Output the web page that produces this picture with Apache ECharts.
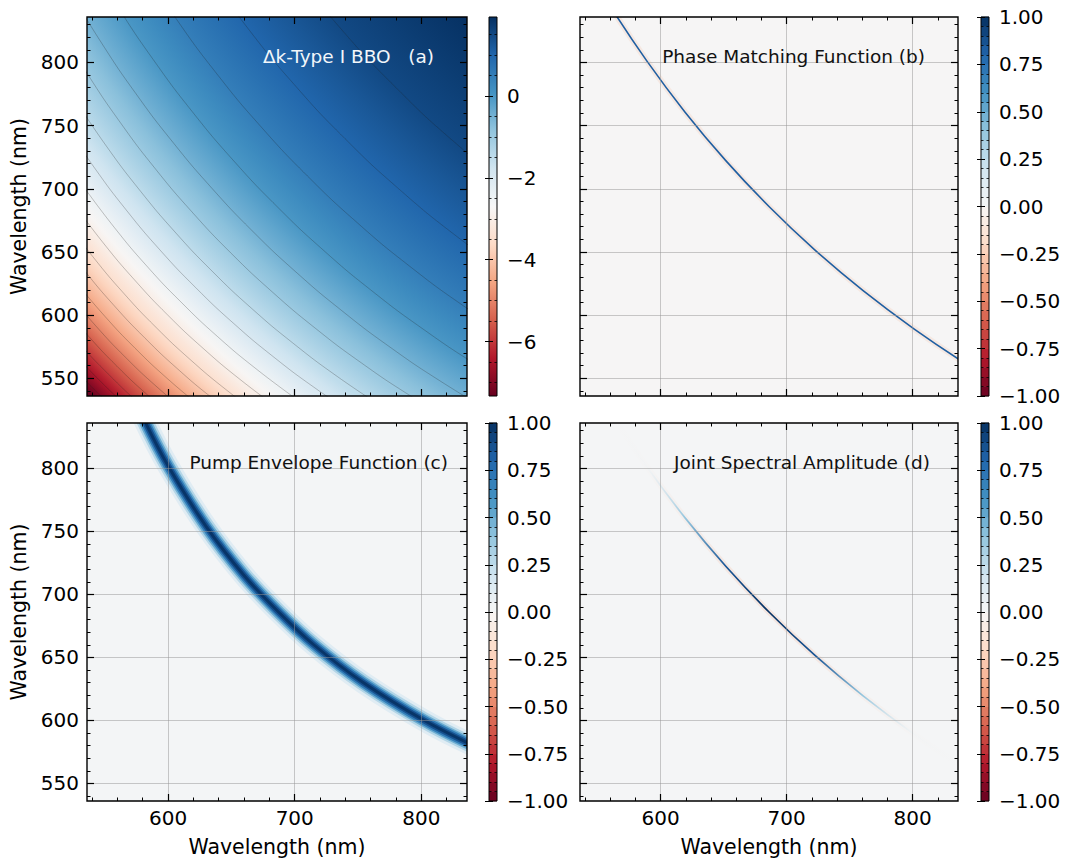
<!DOCTYPE html>
<html>
<head>
<meta charset="utf-8">
<script src="https://cdn.jsdelivr.net/npm/echarts@6.0.0/dist/echarts.min.js"></script>
<style>
html,body{margin:0;padding:0;background:#ffffff;}
#chart{width:1065px;height:860px;}
</style>
</head>
<body>
<div id="chart"></div>
<script>
// ================= data =================
const WL_MIN = 536, WL_MAX = 836;
const X_MAJOR = [600, 700, 800];
const X_MINOR = [540, 560, 580, 620, 640, 660, 680, 720, 740, 760, 780, 820];
const Y_MAJOR = [550, 600, 650, 700, 750, 800];
const Y_MINOR = [540, 560, 570, 580, 590, 610, 620, 630, 640, 660, 670, 680, 690, 710, 720, 730, 740, 760, 770, 780, 790, 810, 820, 830];

// panel (a): delta-k colour range, corner values and contour lines (signal nm, idler nm)
const DK_MIN = -7.33, DK_MAX = 1.93;
const DK_LOW_CORNER = -7.5, DK_HIGH_CORNER = 1.91;
const DK_CB_MAJOR = [-6, -4, -2, 0];
const DK_CB_MINOR = [-7, -6.5, -5.5, -5, -4.5, -3.5, -3, -2.5, -1.5, -1, -0.5, 0.5, 1, 1.5];
const DK_LEVELS = [1.5, 1.0, 0.5, 0, -0.5, -1.0, -1.5, -2.0, -2.5, -3.0, -3.5, -4.0, -4.5, -5.0, -5.5, -6.0, -6.5, -7.0];
const DK_CONTOURS = [
  [[694.9,877.9],[735.9,827.3],[780.0,780.0],[827.3,735.9],[877.9,694.9]],
  [[628.0,875.4],[662.8,827.3],[700.0,782.1],[739.7,739.7],[782.1,700.0],[827.3,662.8],[875.4,628.0]],
  [[576.2,880.6],[606.6,834.3],[638.9,790.5],[673.4,749.1],[710.1,710.1],[749.1,673.4],[790.5,638.9],[834.3,606.6],[880.6,576.2]],
  [[533.4,888.9],[560.3,844.1],[589.0,801.3],[619.4,760.7],[651.7,722.3],[686.0,686.0],[722.3,651.7],[760.7,619.4],[801.3,589.0],[844.1,560.3],[888.9,533.4]],
  [[521.9,857.5],[547.5,815.4],[574.7,775.2],[603.6,737.1],[634.2,700.9],[666.6,666.6],[700.9,634.2],[737.1,603.6],[775.2,574.7],[815.4,547.5],[857.5,521.9]],
  [[512.0,831.2],[536.4,790.9],[562.2,752.6],[589.6,716.3],[618.7,681.9],[649.4,649.4],[681.9,618.7],[716.3,589.6],[752.6,562.2],[790.9,536.4],[831.2,512.0]],
  [[526.8,770.2],[551.5,733.5],[577.7,698.8],[605.4,665.9],[634.8,634.8],[665.9,605.4],[698.8,577.7],[733.5,551.5],[770.2,526.8]],
  [[518.1,751.9],[541.9,716.6],[567.0,683.2],[593.6,651.6],[621.8,621.8],[651.6,593.6],[683.2,567.0],[716.6,541.9],[751.9,518.1]],
  [[533.3,701.7],[557.5,669.5],[583.1,639.0],[610.3,610.3],[639.0,583.1],[669.5,557.5],[701.7,533.3]],
  [[525.5,688.2],[548.9,657.1],[573.7,627.7],[599.9,599.9],[627.7,573.7],[657.1,548.9],[688.2,525.5]],
  [[518.3,676.0],[541.0,645.8],[565.0,617.3],[590.4,590.4],[617.3,565.0],[645.8,541.0],[676.0,518.3]],
  [[511.8,664.9],[533.8,635.6],[557.1,607.9],[581.8,581.8],[607.9,557.1],[635.6,533.8],[664.9,511.8]],
  [[527.2,626.2],[549.9,599.3],[573.9,573.9],[599.3,549.9],[626.2,527.2]],
  [[521.0,617.5],[543.1,591.3],[566.5,566.5],[591.3,543.1],[617.5,521.0]],
  [[515.2,609.3],[536.8,583.8],[559.6,559.6],[583.8,536.8],[609.3,515.2]],
  [[509.6,601.5],[530.7,576.6],[553.1,553.1],[576.6,530.7],[601.5,509.6]],
  [[525.3,570.2],[547.1,547.1],[570.2,525.3]],
  [[520.0,564.0],[541.4,541.4],[564.0,520.0]]
];

// panel (b): phase-matching ridge
const PM_CURVE = [[533.4,888.9],[560.3,844.1],[589.0,801.3],[619.4,760.7],[651.7,722.3],[686.0,686.0],[722.3,651.7],[760.7,619.4],[801.3,589.0],[844.1,560.3],[888.9,533.4]];
// panel (c): pump envelope ridge
const PUMP_CURVE = [[560,887],[580,841],[600,802],[630,754],[660,715],[686.6,686.6],[715,660],[754,630],[802,600],[841,580],[887,560]];
const PUMP_VALUES = [0.12, 0.3, 0.5, 0.7, 0.88, 0.98];
// panel (d): joint spectral amplitude along the ridge
const JSA_CURVE = [[560.3,844.1],[589.0,801.3],[619.4,760.7],[651.7,722.3],[686.0,686.0],[722.3,651.7],[760.7,619.4],[801.3,589.0],[844.1,560.3]];
const JSA_AMP = [0.0, 0.06, 0.4, 0.86, 1.0, 0.86, 0.4, 0.06, 0.0];

// colorbars of (b)(c)(d)
const CB_LEVELS = [-1,-0.95,-0.9,-0.85,-0.8,-0.75,-0.7,-0.65,-0.6,-0.55,-0.5,-0.45,-0.4,-0.35,-0.3,-0.25,-0.2,-0.15,-0.1,-0.05,0,0.05,0.1,0.15,0.2,0.25,0.3,0.35,0.4,0.45,0.5,0.55,0.6,0.65,0.7,0.75,0.8,0.85,0.9,0.95,1];
const CB_MAJOR = [-1, -0.75, -0.5, -0.25, 0, 0.25, 0.5, 0.75, 1];

const TITLES = ['\u0394k-Type I BBO   (a)', 'Phase Matching Function (b)', 'Pump Envelope Function (c)', 'Joint Spectral Amplitude (d)'];
const AXIS_NAME = 'Wavelength (nm)';

// ================= styles / layout =================
const FONT = 'DejaVu Sans';
const P = [
  {left:87,  top:17,  w:380, h:379},
  {left:580, top:17,  w:378, h:379},
  {left:87,  top:423, w:380, h:378},
  {left:580, top:423, w:378, h:378}
];
const CB = [
  {left:489, top:17,  w:8, h:379},
  {left:981, top:17,  w:8, h:379},
  {left:489, top:423, w:8, h:378},
  {left:981, top:423, w:8, h:378}
];
const PANEL_BG = ['#ffffff', '#f6f5f5', '#f3f5f6', '#f4f5f6'];
const PUMP_WIDTHS = [22, 16.5, 12.5, 9.3, 6.1, 2.9];
const GRAD_CENTER = [1320, 1320];
const TITLE_POS = [
  {x:434, base:63, color:'#f2f6fa'},
  {x:925, base:63, color:'#111111'},
  {x:448, base:469, color:'#111111'},
  {x:930, base:469, color:'#111111'}
];

const RDBU = ['#67001f','#b2182b','#d6604d','#f4a582','#fddbc7','#f7f7f7','#d1e5f0','#92c5de','#4393c3','#2166ac','#053061'];
const RDBU_RGB = RDBU.map(h => [parseInt(h.slice(1,3),16), parseInt(h.slice(3,5),16), parseInt(h.slice(5,7),16)]);
function cmapRgb(t) {
  t = Math.max(0, Math.min(1, t));
  const s = t * 10; let i = Math.floor(s); if (i >= 10) i = 9;
  const f = s - i, a = RDBU_RGB[i], b = RDBU_RGB[i + 1];
  return a.map((v, k) => Math.round(v + (b[k] - v) * f));
}
const cmap = t => 'rgb(' + cmapRgb(t).join(',') + ')';
const cDk = v => cmap((v - DK_MIN) / (DK_MAX - DK_MIN));
const cUnit = v => cmap((v + 1) / 2);

function px(p, x, y) {
  return [p.left + (x - WL_MIN) / (WL_MAX - WL_MIN) * p.w, p.top + (WL_MAX - y) / (WL_MAX - WL_MIN) * p.h];
}
const C0 = px(P[0], GRAD_CENTER[0], GRAD_CENTER[1]);
function rOf(x, y) { const q = px(P[0], x, y); return Math.hypot(q[0] - C0[0], q[1] - C0[1]); }
function diagOf(pts) { let best = pts[0]; pts.forEach(p => { if (Math.abs(p[0]-p[1]) < Math.abs(best[0]-best[1])) best = p; }); return best; }
function radial(rin, vin, rout, vout) {
  return {type:'radial', x:C0[0], y:C0[1], r:rout, global:true, colorStops:[
    {offset: rin / rout, color: cDk(vin)},
    {offset: (rin + rout) / 2 / rout, color: cDk((vin + vout) / 2)},
    {offset: 1, color: cDk(vout)}
  ]};
}

// ================= axes =================
const grids = [], xAxes = [], yAxes = [];
function tick(vals, len, w) { return {show:true, inside:true, customValues:vals, length:len, lineStyle:{color:'#000', width:w}}; }
const labelStyle = {fontSize:20, color:'#000', fontFamily:FONT};
P.forEach((p, i) => {
  grids.push({left:p.left, top:p.top, width:p.w, height:p.h, show:i > 0, backgroundColor:PANEL_BG[i], borderWidth:0, containLabel:false, outerBoundsMode:'none'});
  const base = {type:'value', gridIndex:i, min:WL_MIN, max:WL_MAX, axisLine:{show:false}, splitLine:{show:false}, z:50, silent:true};
  xAxes.push(Object.assign({}, base, {position:'bottom', axisTick:tick(X_MAJOR, 7, 1.2),
    axisLabel:Object.assign({show:i >= 2, customValues:X_MAJOR, margin:7}, labelStyle)}));
  xAxes.push(Object.assign({}, base, {position:'bottom', axisTick:tick(X_MINOR, 3.5, 1), axisLabel:{show:false}}));
  xAxes.push(Object.assign({}, base, {position:'top', axisTick:tick(X_MAJOR, 7, 1.2), axisLabel:{show:false}}));
  xAxes.push(Object.assign({}, base, {position:'top', axisTick:tick(X_MINOR, 3.5, 1), axisLabel:{show:false}}));
  yAxes.push(Object.assign({}, base, {position:'left', axisTick:tick(Y_MAJOR, 7, 1.2),
    axisLabel:Object.assign({show:i % 2 === 0, customValues:Y_MAJOR, margin:8}, labelStyle)}));
  yAxes.push(Object.assign({}, base, {position:'left', axisTick:tick(Y_MINOR, 3.5, 1), axisLabel:{show:false}}));
  yAxes.push(Object.assign({}, base, {position:'right', axisTick:tick(Y_MAJOR, 7, 1.2), axisLabel:{show:false}}));
  yAxes.push(Object.assign({}, base, {position:'right', axisTick:tick(Y_MINOR, 3.5, 1), axisLabel:{show:false}}));
});
const fmtDk = v => (v < 0 ? '\u2212' : '') + Math.abs(v);
const fmtU = v => (v < 0 ? '\u2212' : '') + Math.abs(v).toFixed(2);
const CB_MINOR = CB_LEVELS.filter(v => CB_MAJOR.indexOf(v) < 0);
CB.forEach((c, j) => {
  const gi = 4 + j;
  grids.push({left:c.left, top:c.top, width:c.w, height:c.h, show:false, containLabel:false, outerBoundsMode:'none'});
  xAxes.push({type:'value', gridIndex:gi, min:0, max:1, show:false});
  const lo = j === 0 ? DK_MIN : -1, hi = j === 0 ? DK_MAX : 1;
  const maj = j === 0 ? DK_CB_MAJOR : CB_MAJOR, mnr = j === 0 ? DK_CB_MINOR : CB_MINOR;
  const base = {type:'value', gridIndex:gi, min:lo, max:hi, axisLine:{show:false}, splitLine:{show:false}, z:50, silent:true};
  yAxes.push(Object.assign({}, base, {position:'right', axisTick:tick(maj, 4, 1),
    axisLabel:Object.assign({customValues:maj, margin:10, formatter: j === 0 ? fmtDk : fmtU}, labelStyle)}));
  yAxes.push(Object.assign({}, base, {position:'right', axisTick:tick(mnr, 2.5, 0.8), axisLabel:{show:false}}));
  yAxes.push(Object.assign({}, base, {position:'left', axisTick:tick(maj, 4, 1), axisLabel:{show:false}}));
  yAxes.push(Object.assign({}, base, {position:'left', axisTick:tick(mnr, 2.5, 0.8), axisLabel:{show:false}}));
});

// ================= series =================
const series = [];
const common = {silent:true, animation:false, symbol:'none', showSymbol:false};
// (a) filled delta-k field, layered from high to low level
const topDiag = diagOf(DK_CONTOURS[0]);
series.push(Object.assign({type:'line', xAxisIndex:0, yAxisIndex:0, data:[[400, 1000], [1000, 1000]],
  lineStyle:{width:0, opacity:0}, areaStyle:{origin:'start', opacity:1,
  color: radial(rOf(WL_MAX, WL_MAX), DK_HIGH_CORNER, rOf(topDiag[0], topDiag[1]), DK_LEVELS[0])}, z:1}, common));
DK_LEVELS.forEach((L, k) => {
  const pts = DK_CONTOURS[k], d = diagOf(pts);
  let rout, vout;
  if (k + 1 < DK_LEVELS.length) { const dn = diagOf(DK_CONTOURS[k + 1]); rout = rOf(dn[0], dn[1]); vout = DK_LEVELS[k + 1]; }
  else { rout = rOf(WL_MIN, WL_MIN); vout = DK_LOW_CORNER; }
  series.push(Object.assign({type:'line', xAxisIndex:0, yAxisIndex:0, data:[[400, pts[0][1]]].concat(pts),
    lineStyle:{width:0, opacity:0}, areaStyle:{origin:'start', opacity:1, color: radial(rOf(d[0], d[1]), L, rout, vout)}, z:1}, common));
});
DK_CONTOURS.forEach(pts => {
  series.push(Object.assign({type:'line', xAxisIndex:0, yAxisIndex:0, data:pts, smooth:true,
    lineStyle:{width:0.8, color:'rgba(30,30,30,0.33)'}, z:3}, common));
});

// helper: smooth polylines in a custom series (clipped exactly to the plot)
function curveSeries(axisIdx, curve, layers) {
  return {type:'custom', xAxisIndex:axisIdx, yAxisIndex:axisIdx, data:[[686, 686]], silent:true, animation:false, clip:true, z:2,
    renderItem: function (params, api) {
      const pts = curve.map(p => api.coord(p));
      return {type:'group', children: layers(pts).map(l => ({type:'polyline', shape:{points:pts, smooth:0.35},
        style:{fill:null, stroke:l.stroke, lineWidth:l.width, lineJoin:'round', lineCap:'butt'}}))};
    }};
}
// (b) phase matching ridge
series.push(curveSeries(4, PM_CURVE, () => [
  {stroke:'rgba(244,165,130,0.16)', width:6},
  {stroke:'#1f5fa2', width:1.6}
]));
// (c) pump envelope band
series.push(curveSeries(8, PUMP_CURVE, () => PUMP_VALUES.map((v, k) => ({stroke:cUnit(v), width:PUMP_WIDTHS[k]}))));
// (d) JSA ridge, coloured along its length by amplitude
series.push(curveSeries(12, JSA_CURVE, pts => {
  const x0 = pts[0][0], x1 = pts[pts.length - 1][0];
  const grad = (fn) => ({type:'linear', x:x0, y:0, x2:x1, y2:0, global:true,
    colorStops: pts.map((p, i) => ({offset:(p[0] - x0) / (x1 - x0), color:fn(JSA_AMP[i])}))});
  return [
    {stroke:grad(a => 'rgba(244,165,130,' + (0.2 * a).toFixed(3) + ')'), width:6},
    {stroke:grad(a => 'rgba(' + cmapRgb((a + 1) / 2).join(',') + ',' + Math.min(1, 0.15 + 2 * a).toFixed(3) + ')'), width:1.7}
  ];
}));
// grid lines for (b)(c)(d)
[1, 2, 3].forEach(i => {
  series.push({type:'scatter', xAxisIndex:i * 4, yAxisIndex:i * 4, data:[], silent:true, animation:false, z:5,
    markLine:{silent:true, symbol:'none', animation:false, label:{show:false},
      lineStyle:{color:'rgba(150,150,150,0.5)', width:1, type:'solid'},
      data: X_MAJOR.map(v => ({xAxis:v})).concat(Y_MAJOR.map(v => ({yAxis:v})))}});
});
// colorbars
CB.forEach((c, j) => {
  const xi = 16 + j, yi = 16 + 4 * j;
  if (j === 0) {
    series.push({type:'custom', xAxisIndex:xi, yAxisIndex:yi, data:[[DK_MIN, DK_MAX]], silent:true, animation:false,
      renderItem: function (params, api) {
        const t = api.coord([0, api.value(1)]), b = api.coord([1, api.value(0)]);
        return {type:'rect', shape:{x:t[0], y:t[1], width:b[0] - t[0], height:b[1] - t[1]},
          style:{fill:{type:'linear', x:0, y:0, x2:0, y2:1, colorStops: RDBU.map((col, k) => ({offset:k / 10, color:RDBU[10 - k]}))}}};
      }});
  } else {
    const bands = CB_LEVELS.slice(0, -1).map((v, k) => [v, CB_LEVELS[k + 1]]);
    series.push({type:'custom', xAxisIndex:xi, yAxisIndex:yi, data:bands, silent:true, animation:false,
      renderItem: function (params, api) {
        const lo = api.value(0), hi = api.value(1);
        const t = api.coord([0, hi]), b = api.coord([1, lo]);
        return {type:'rect', shape:{x:t[0], y:t[1] - 0.3, width:b[0] - t[0], height:b[1] - t[1] + 0.6},
          style:{fill:cUnit((lo + hi) / 2)}};
      }});
  }
});

// ================= texts and frames =================
const graphic = [];
P.forEach((p, i) => {
  graphic.push({type:'rect', z:100, silent:true, shape:{x:p.left, y:p.top, width:p.w, height:p.h},
    style:{fill:'none', stroke:'#000', lineWidth:1.4}});
  const tp = TITLE_POS[i];
  graphic.push({type:'text', z:101, silent:true, x:tp.x, y:tp.base - 6.5,
    style:{text:TITLES[i], fontSize:18.5, fontFamily:FONT, fill:tp.color, align:'right', verticalAlign:'middle'}});
});
CB.forEach(c => {
  graphic.push({type:'rect', z:100, silent:true, shape:{x:c.left, y:c.top, width:c.w, height:c.h},
    style:{fill:'none', stroke:'#000', lineWidth:1}});
});
[P[0], P[2]].forEach(p => {
  graphic.push({type:'text', z:101, silent:true, x:18.5, y:p.top + p.h / 2, rotation:Math.PI / 2,
    style:{text:AXIS_NAME, fontSize:20.5, fontFamily:FONT, fill:'#000', align:'center', verticalAlign:'middle'}});
});
[P[2], P[3]].forEach(p => {
  graphic.push({type:'text', z:101, silent:true, x:p.left + p.w / 2, y:847,
    style:{text:AXIS_NAME, fontSize:20.5, fontFamily:FONT, fill:'#000', align:'center', verticalAlign:'middle'}});
});

const chart = echarts.init(document.getElementById('chart'), null, {renderer:'svg', width:1065, height:860});
chart.setOption({
  animation:false,
  backgroundColor:'#ffffff',
  textStyle:{fontFamily:FONT},
  grid:grids, xAxis:xAxes, yAxis:yAxes, series:series, graphic:graphic
});
</script>
</body>
</html>
